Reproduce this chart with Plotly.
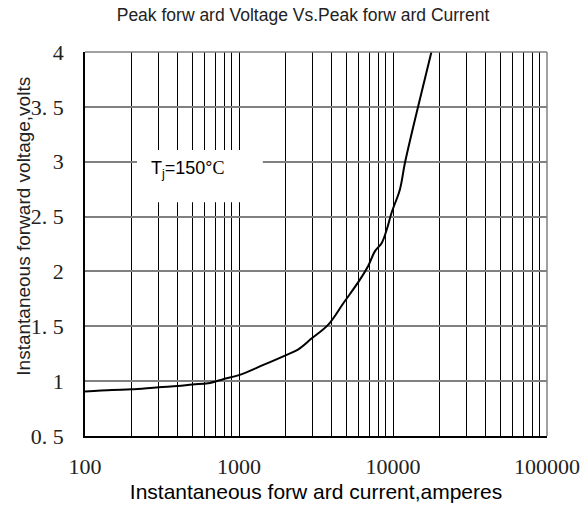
import plotly.graph_objects as go

# Data
current_a = [100, 150, 200, 300, 400, 500, 630, 790, 1000, 1440, 2040, 2430, 2970,
             3800, 4760, 6100, 6900, 7640, 8450, 9100, 9790, 11100, 11960, 14600, 17830]
voltage_v = [0.905, 0.92, 0.925, 0.945, 0.955, 0.97, 0.98, 1.018, 1.055, 1.148, 1.24, 1.29, 1.39,
             1.515, 1.71, 1.925, 2.05, 2.185, 2.26, 2.38, 2.535, 2.75, 2.99, 3.51, 4.01]

x_tick_vals = [100, 1000, 10000, 100000]
x_tick_text = ["100", "1000", "10000", "100000"]
x_minor_vals = [m * 10 ** e for e in (2, 3, 4) for m in range(2, 10)]
y_tick_vals = [0.5, 1, 1.5, 2, 2.5, 3, 3.5, 4]
y_tick_text = ["0. 5", "1", "1. 5", "2", "2. 5", "3", "3. 5", "4"]

title_text = "Peak forw ard Voltage Vs.Peak forw ard Current"
x_title = "Instantaneous forw ard current,amperes"
y_title = "Instantaneous forward voltage,volts"
note_text = "T<sub>j</sub>=150°<span style='font-family:Liberation Serif'>C</span>"

SANS = "Liberation Sans Narrow, Liberation Sans, Arial, sans-serif"
SERIF = "Liberation Serif, DejaVu Serif, serif"

fig = go.Figure()
fig.add_trace(go.Scatter(x=current_a, y=voltage_v, mode="lines",
                         line=dict(color="black", width=2), line_shape="spline",
                         showlegend=False, hoverinfo="skip"))

fig.update_layout(
    width=584, height=506,
    margin=dict(l=85, r=37, t=52, b=70, autoexpand=False),
    paper_bgcolor="white", plot_bgcolor="white",
    title=dict(text=title_text, x=303 / 584, xanchor="center", y=1 - 15 / 506, yanchor="middle",
               font=dict(family=SANS, size=17.5, color="#222")),
    xaxis=dict(type="log", range=[2, 5], tickvals=x_tick_vals, ticktext=x_tick_text,
               minor=dict(tickvals=x_minor_vals, showgrid=True, gridcolor="black", gridwidth=1, ticks=""),
               showgrid=True, gridcolor="black", gridwidth=1,
               showline=True, linecolor="black", linewidth=1.5, ticks="",
               ticklabelstandoff=10, automargin=False,
               tickfont=dict(family=SERIF, size=22, color="#222"),
               title=dict(text=x_title, font=dict(family=SANS, size=21, color="black"), standoff=6),
               zeroline=False),
    yaxis=dict(range=[0.5, 4], tickvals=y_tick_vals, ticktext=y_tick_text,
               showgrid=True, gridcolor="#808080", gridwidth=1.5,
               showline=True, linecolor="black", linewidth=1.5, ticks="",
               ticklabelstandoff=15, automargin=False,
               tickfont=dict(family=SERIF, size=22, color="#222"),
               zeroline=False),
    shapes=[
        dict(type="line", xref="paper", yref="paper", x0=0, x1=1, y0=1, y1=1,
             line=dict(color="#808080", width=1.5), layer="above"),
        dict(type="line", xref="paper", yref="paper", x0=1, x1=1, y0=0, y1=1,
             line=dict(color="#808080", width=1.5), layer="above"),
        dict(type="rect", xref="paper", yref="paper", x0=0.1126, x1=0.385, y0=0.609, y1=0.745,
             fillcolor="white", line=dict(width=0), layer="above"),
    ],
    annotations=[
        dict(text=note_text, xref="paper", yref="paper", x=0.138, y=0.695,
             xanchor="left", yanchor="middle", showarrow=False,
             font=dict(family="Liberation Sans, Arial, sans-serif", size=18, color="black")),
        dict(text=y_title, xref="paper", yref="paper", x=(24 - 85) / 462, y=0.545,
             xanchor="center", yanchor="middle", textangle=-90, showarrow=False,
             font=dict(family=SANS, size=19, color="#222")),
    ],
)

fig.write_html("out.html", config={"displayModeBar": False},
               post_script="document.body.style.margin='0';document.body.style.padding='0';")
